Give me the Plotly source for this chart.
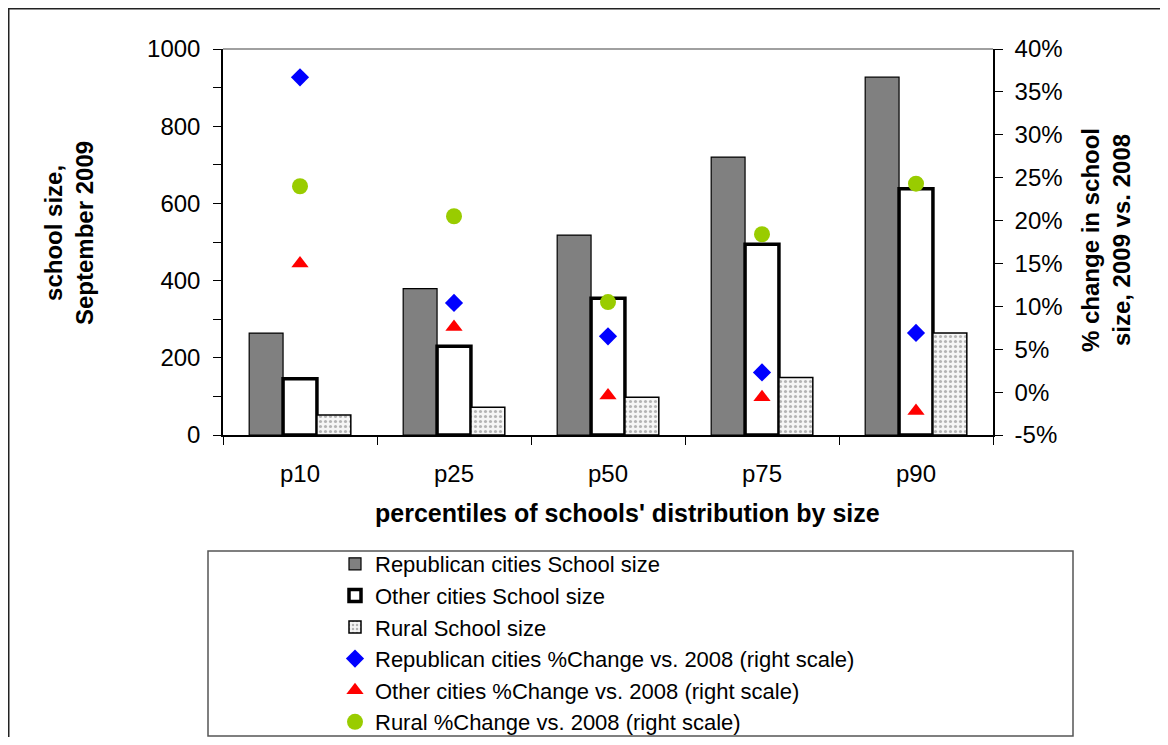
import plotly.graph_objects as go

# ---------------- data ----------------
categories = ["p10", "p25", "p50", "p75", "p90"]
rep_size = [264, 379, 518, 720, 927]
other_size = [146, 230, 354, 494, 638]
rural_size = [52, 72, 98, 149, 264]
rep_pct = [36.7, 10.4, 6.5, 2.3, 6.9]
other_pct = [15.0, 7.6, -0.4, -0.6, -2.2]
rural_pct = [24.0, 20.5, 10.5, 18.4, 24.3]

left_tick_vals = [0, 200, 400, 600, 800, 1000]
right_tick_vals = [-5, 0, 5, 10, 15, 20, 25, 30, 35, 40]
right_tick_labels = ["-5%", "0%", "5%", "10%", "15%", "20%", "25%", "30%", "35%", "40%"]

names = [
    "Republican cities School size",
    "Other cities School size",
    "Rural School size",
    "Republican cities %Change vs. 2008 (right scale)",
    "Other cities %Change vs. 2008 (right scale)",
    "Rural %Change vs. 2008 (right scale)",
]

# ---------------- geometry ----------------
# page has an 8px body margin, so the figure is 16px smaller than the window
OFF = 8
W, H = 1152, 729
L, R, T, B = 215, 167, 41, 302
PW, PH = W - L - R, H - T - B
FONT = "Liberation Sans, Arial, Helvetica, sans-serif"


def fx(xpage):
    return (xpage - OFF - L) / PW


def fy(ypage):
    return (H - B - (ypage - OFF)) / PH


fig = go.Figure()

fig.add_trace(go.Bar(
    x=categories, y=rep_size, name=names[0],
    marker=dict(color="#808080", line=dict(color="black", width=1.2)),
))
fig.add_trace(go.Bar(
    x=categories, y=other_size, name=names[1],
    marker=dict(color="white", line=dict(color="black", width=3.5)),
))
fig.add_trace(go.Bar(
    x=categories, y=rural_size, name=names[2],
    marker=dict(color="white", line=dict(color="black", width=1.5),
                pattern=dict(shape=".", size=5, solidity=0.3,
                             fgcolor="#b4b4b4", bgcolor="#f6f6f6",
                             fillmode="replace")),
))
fig.add_trace(go.Scatter(
    x=categories, y=rep_pct, name=names[3], mode="markers", yaxis="y2",
    marker=dict(symbol="diamond", size=14, color="#0000FF"),
))
fig.add_trace(go.Scatter(
    x=categories, y=other_pct, name=names[4], mode="markers", yaxis="y2",
    marker=dict(symbol="triangle-up", size=15, color="#FF0000"),
))
fig.add_trace(go.Scatter(
    x=categories, y=rural_pct, name=names[5], mode="markers", yaxis="y2",
    marker=dict(symbol="circle", size=16, color="#99CC00"),
))

tickfont = dict(family=FONT, size=24, color="black")

fig.update_layout(
    width=W, height=H,
    margin=dict(l=L, r=R, t=T, b=B, pad=0, autoexpand=False),
    paper_bgcolor="white", plot_bgcolor="white",
    font=dict(family=FONT, color="black"),
    barmode="group", bargap=0.34, bargroupgap=0,
    showlegend=True,
    legend=dict(
        x=fx(335), y=fy(543), xanchor="left", yanchor="top",
        bgcolor="rgba(0,0,0,0)", borderwidth=0,
        font=dict(family=FONT, size=22, color="black"),
        tracegroupgap=0, itemsizing="trace",
    ),
    xaxis=dict(
        type="category", range=[-0.5, 4.5],
        showline=True, linecolor="black", linewidth=1.5,
        ticks="outside", ticklen=8, tickwidth=1, tickcolor="black",
        tickson="boundaries", tickfont=tickfont, ticklabelstandoff=16,
        showgrid=False, zeroline=False,
    ),
    xaxis2=dict(
        overlaying="x", anchor="y", range=[-0.5, 4.5],
        tickvals=[-0.5, 0.5, 1.5, 2.5, 3.5, 4.5],
        ticks="inside", ticklen=8, tickwidth=1, tickcolor="black",
        showticklabels=False, showline=False, showgrid=False, zeroline=False,
    ),
    yaxis=dict(
        range=[0, 1000], tickvals=left_tick_vals,
        showline=True, linecolor="black", linewidth=1.5,
        ticks="outside", ticklen=8, tickwidth=1, tickcolor="black",
        minor=dict(dtick=100, tick0=0, ticks="outside", ticklen=8,
                   tickcolor="black", tickwidth=1, showgrid=False),
        tickfont=tickfont, ticklabelstandoff=8,
        showgrid=False, zeroline=False,
    ),
    yaxis2=dict(
        overlaying="y", side="right", anchor="x",
        range=[-5, 40], tickvals=right_tick_vals, ticktext=right_tick_labels,
        showline=True, linecolor="black", linewidth=1.5,
        ticks="outside", ticklen=8, tickwidth=1, tickcolor="black",
        tickfont=tickfont, ticklabelstandoff=7,
        showgrid=False, zeroline=False,
    ),
    yaxis3=dict(
        overlaying="y", side="left", anchor="x",
        range=[0, 1000], dtick=100, tick0=0,
        ticks="inside", ticklen=8, tickwidth=1, tickcolor="black",
        showticklabels=False, showline=False, showgrid=False, zeroline=False,
    ),
    yaxis4=dict(
        overlaying="y", side="right", anchor="x",
        range=[-5, 40], dtick=5, tick0=0,
        ticks="inside", ticklen=8, tickwidth=1, tickcolor="black",
        showticklabels=False, showline=False, showgrid=False, zeroline=False,
    ),
)

# axis titles
title_font = dict(family=FONT, size=24, color="black")
fig.add_annotation(
    x=fx(69), y=fy(233), xref="paper", yref="paper",
    text="<b>school size,<br>September 2009</b>", textangle=-90,
    showarrow=False, xanchor="center", yanchor="middle", font=title_font,
)
fig.add_annotation(
    x=fx(1106), y=fy(240), xref="paper", yref="paper",
    text="<b>% change in school<br>size, 2009 vs. 2008</b>", textangle=-90,
    showarrow=False, xanchor="center", yanchor="middle", font=title_font,
)
fig.add_annotation(
    x=fx(627), y=fy(513), xref="paper", yref="paper",
    text="<b>percentiles of schools' distribution by size</b>",
    showarrow=False, xanchor="center", yanchor="middle",
    font=dict(family=FONT, size=25, color="black"),
)

# frames
fig.add_shape(type="line", xref="paper", yref="paper", x0=0, x1=1, y0=1, y1=1,
              line=dict(color="#808080", width=1.5))
fig.add_shape(type="rect", xref="paper", yref="paper",
              x0=fx(208), x1=fx(1073), y0=fy(736), y1=fy(551),
              line=dict(color="#555555", width=1.5), layer="below")
fig.add_shape(type="rect", xref="paper", yref="paper",
              x0=fx(OFF + 0.75), x1=fx(1200), y0=fy(800), y1=fy(OFF + 0.75),
              line=dict(color="#222222", width=1.5), layer="below")

fig.write_html("out.html")
